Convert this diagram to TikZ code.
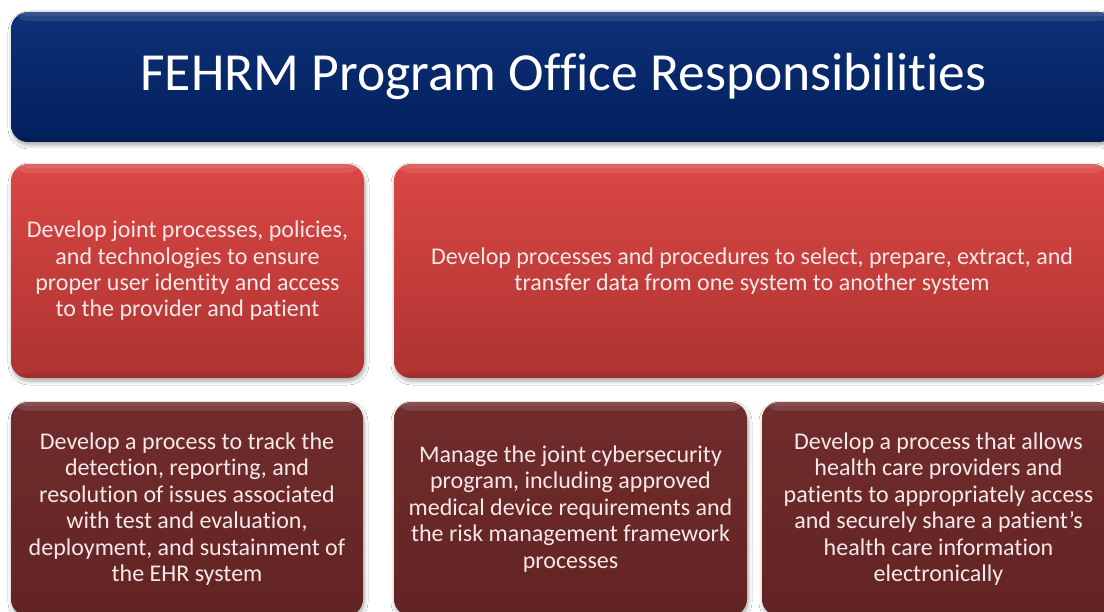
\documentclass[tikz,border=0pt]{standalone}
\usepackage{fontspec}
\setmainfont{Carlito}[Ligatures=NoCommon]
\usetikzlibrary{shadows.blur}
\definecolor{navyTop}{HTML}{0E3078}
\definecolor{navyBot}{HTML}{03205E}
\definecolor{redTop}{HTML}{DB4744}
\definecolor{redBot}{HTML}{AD3331}
\definecolor{darkTop}{HTML}{712C2C}
\definecolor{darkBot}{HTML}{622423}
\definecolor{txt}{HTML}{F4E8E8}
\begin{document}
\begin{tikzpicture}[x=1pt,y=-1pt,
  panel/.style={rounded corners=17pt, draw=none, align=center, text=txt, inner sep=0pt,
    font=\fontsize{24}{26.4}\selectfont,
    path picture={
      \fill[white, opacity=0.10] (path picture bounding box.north west) rectangle ([yshift=-9pt]path picture bounding box.north east);
      \fill[white, opacity=0.08] (path picture bounding box.north west) rectangle ([yshift=-4pt]path picture bounding box.north east);
      \fill[black, opacity=0.08] (path picture bounding box.south west) rectangle ([yshift=5pt]path picture bounding box.south east);
    },
    blur shadow={shadow xshift=1pt, shadow yshift=-3pt, shadow blur steps=6, shadow opacity=35, shadow blur radius=4pt}},
  titlebox/.style={panel, top color=navyTop, bottom color=navyBot, text=white, font=\fontsize{53.6}{60}\selectfont},
  redbox/.style={panel, top color=redTop, bottom color=redBot},
  darkbox/.style={panel, top color=darkTop, bottom color=darkBot}]
\useasboundingbox (0,0) rectangle (1104,612);
\fill[white] (0,0) rectangle (1104,612);
\clip (0,0) rectangle (1104,612);
\node[titlebox, minimum width=1105pt, minimum height=130pt] (title) at (563.5,77) {FEHRM Program Office Responsibilities};
\node[redbox, minimum width=353pt, minimum height=214pt] (r1) at (187.5,271)
  {Develop joint processes, policies,\\and technologies to ensure\\proper user identity and access\\to the provider and patient};
\node[redbox, minimum width=716pt, minimum height=214pt] (r2) at (752,271)
  {Develop processes and procedures to select, prepare, extract, and\\transfer data from one system to another system};
\node[darkbox, minimum width=352pt, minimum height=214pt] (d1) at (187,509)
  {Develop a process to track the\\detection, reporting, and\\resolution of issues associated\\with test and evaluation,\\deployment, and sustainment of\\the EHR system};
\node[darkbox, minimum width=353pt, minimum height=214pt] (d2) at (570.5,509)
  {Manage the joint cybersecurity\\program, including approved\\medical device requirements and\\the risk management framework\\processes};
\node[darkbox, minimum width=353pt, minimum height=214pt] (d3) at (938.5,509)
  {Develop a process that allows\\health care providers and\\patients to appropriately access\\and securely share a patient’s\\health care information\\electronically};
\end{tikzpicture}
\end{document}
